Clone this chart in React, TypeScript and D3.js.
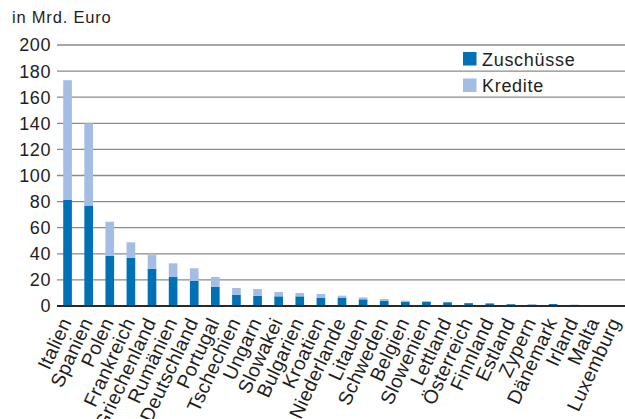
import React from 'react';
import * as d3 from 'd3';

const countries = [
    'Italien', 'Spanien', 'Polen', 'Frankreich', 'Griechenland', 'Rumänien', 'Deutschland',
    'Portugal', 'Tschechien', 'Ungarn', 'Slowakei', 'Bulgarien', 'Kroatien', 'Niederlande',
    'Litauen', 'Schweden', 'Belgien', 'Slowenien', 'Lettland', 'Österreich', 'Finnland',
    'Estland', 'Zypern', 'Dänemark', 'Irland', 'Malta', 'Luxemburg',
];
const zuschuesse = [
    81.5, 77, 38.5, 37, 28.6, 22.2, 19.2, 14.8, 8.7, 7.9, 7.4, 7.4, 6.4, 6.4,
    5.1, 4.1, 3.3, 3.3, 2.9, 2.2, 2.0, 1.4, 1.1, 1.5, 0.9, 0.3, 0.1,
];
const kredite = [
    91.5, 63, 26.1, 11.8, 10.4, 10.5, 9.7, 7.4, 5.1, 5.1, 3.3, 2.6, 2.8, 1.5,
    1.5, 1.3, 0.8, 0.4, 0.2, 0.1, 0.1, 0.1, 0.3, 0, 0, 0, 0,
];
const yTicks = [0, 20, 40, 60, 80, 100, 120, 140, 160, 180, 200];
const seriesNames = ['Zuschüsse', 'Kredite'];
const colors = ['#0071b5', '#a3bde4'];

const W = 625;
const H = 419;
const margin = { top: 45, right: 0, bottom: 113, left: 57 };
const FONT = '"Liberation Sans", Arial, Helvetica, sans-serif';

export default function App() {
    const rows = countries.map((c, i) => ({ land: c, zuschuesse: zuschuesse[i], kredite: kredite[i] }));
    const stack = d3.stack<any>().keys(['zuschuesse', 'kredite'])(rows);

    const x = d3.scaleBand<string>()
        .domain(countries)
        .range([margin.left, W + 2])
        .paddingInner(0.59)
        .paddingOuter(0.295);

    const y = d3.scaleLinear()
        .domain([0, 200])
        .range([H - margin.bottom, margin.top]);

    return (
        <svg width={W} height={H} style={{ position: 'absolute', left: 0, top: 0, background: '#fff' }}
            fontFamily={FONT}>
            <text x={12} y={22.5} fontSize={16.5} letterSpacing={0.8} fill="#1e1e1e">in Mrd. Euro</text>

            {/* gridlines + y labels */}
            {yTicks.map(t => (
                <g key={t}>
                    {t !== 0 && (
                        <line x1={margin.left} x2={W} y1={y(t)} y2={y(t)} stroke="#8a8a8a" strokeWidth={1.3} />
                    )}
                    <text x={51} y={y(t)} dy="0.36em" textAnchor="end" fontSize={18} letterSpacing={0.6} fill="#1e1e1e">
                        {t}
                    </text>
                </g>
            ))}

            {/* bars */}
            {stack.map((s, si) => (
                <g key={s.key} fill={colors[si]}>
                    {s.map((d, i) => (
                        <rect key={i}
                            x={x(countries[i])}
                            width={x.bandwidth()}
                            y={y(d[1])}
                            height={Math.max(0, y(d[0]) - y(d[1]))} />
                    ))}
                </g>
            ))}

            <line x1={margin.left} x2={W} y1={y(0)} y2={y(0)} stroke="#2a2a2a" strokeWidth={2} />

            {/* x labels, rotated */}
            {countries.map(c => {
                const cx = (x(c) ?? 0) + x.bandwidth() / 2 + 4.5;
                const cy = y(0) + 16;
                return (
                    <text key={c} transform={`translate(${cx},${cy}) rotate(-65)`} textAnchor="end"
                        fontSize={19.5} letterSpacing={0.3} fill="#1e1e1e">
                        {c}
                    </text>
                );
            })}

            {/* legend */}
            {seriesNames.map((n, i) => (
                <g key={n} transform={`translate(463,${52 + i * 26.5})`}>
                    <rect width={13.5} height={13.5} fill={colors[i]} />
                    <text x={19} y={13.5} fontSize={18} letterSpacing={0.7} fill="#1e1e1e">{n}</text>
                </g>
            ))}
        </svg>
    );
}
